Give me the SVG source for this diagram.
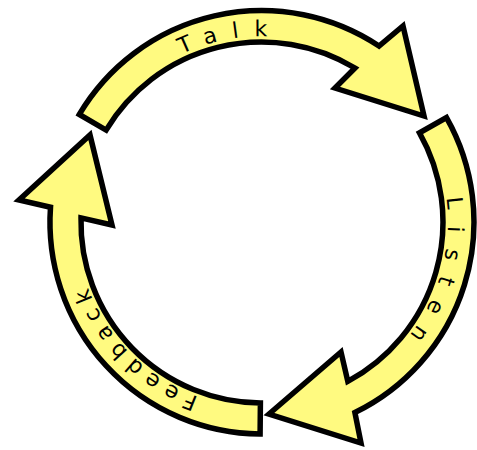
<svg xmlns="http://www.w3.org/2000/svg" width="477" height="450" viewBox="0 0 477 450">
  <style>
    .arrow { fill: #FFFA80; stroke: #000; stroke-width: 5.5; stroke-linejoin: miter; stroke-miterlimit: 10; }
    .lbl { font-family: "DejaVu Sans", "Liberation Sans", sans-serif; font-size: 22px; fill: #000; }
  </style>
  <defs>
    <path id="pTalk" d="M181.9,54.1 A187,187 0 0 1 404.5,102.4" fill="none"/>
    <path id="pListen" d="M446.4,197.7 A186,186 0 0 1 355,383.1" fill="none"/>
    <path id="pFeedback" d="M198.4,396.8 A186,186 0 0 1 76,222" fill="none"/>
  </defs>
  <rect width="477" height="450" fill="#fff"/>
  <g id="connectors">
    <g id="talk">
      <path class="arrow" d="M79.3,114.4 A212,212 0 0 1 379,46 L403,26 L424,116 L335,88 L355,68 A181,181 0 0 0 106.1,130.1 Z"/>
      <text class="lbl"><textPath href="#pTalk" startOffset="0" textLength="88" lengthAdjust="spacing">Talk</textPath></text>
    </g>
    <g id="listen">
      <path class="arrow" d="M446.5,117.6 A212,212 0 0 1 354.9,412.5 L361,443 L269,414 L341,352 L347.8,381.4 A181,181 0 0 0 419.5,132.9 Z"/>
      <text class="lbl"><textPath href="#pListen" startOffset="0" textLength="146" lengthAdjust="spacing">Listen</textPath></text>
    </g>
    <g id="feedback">
      <path class="arrow" d="M260.1,434 A212,212 0 0 1 50.5,207.2 L19,200 L90,135 L112,225 L81,217.9 A181,181 0 0 0 260.4,403 Z"/>
      <text class="lbl"><textPath href="#pFeedback" startOffset="0" textLength="160" lengthAdjust="spacing">Feedback</textPath></text>
    </g>
  </g>
</svg>
